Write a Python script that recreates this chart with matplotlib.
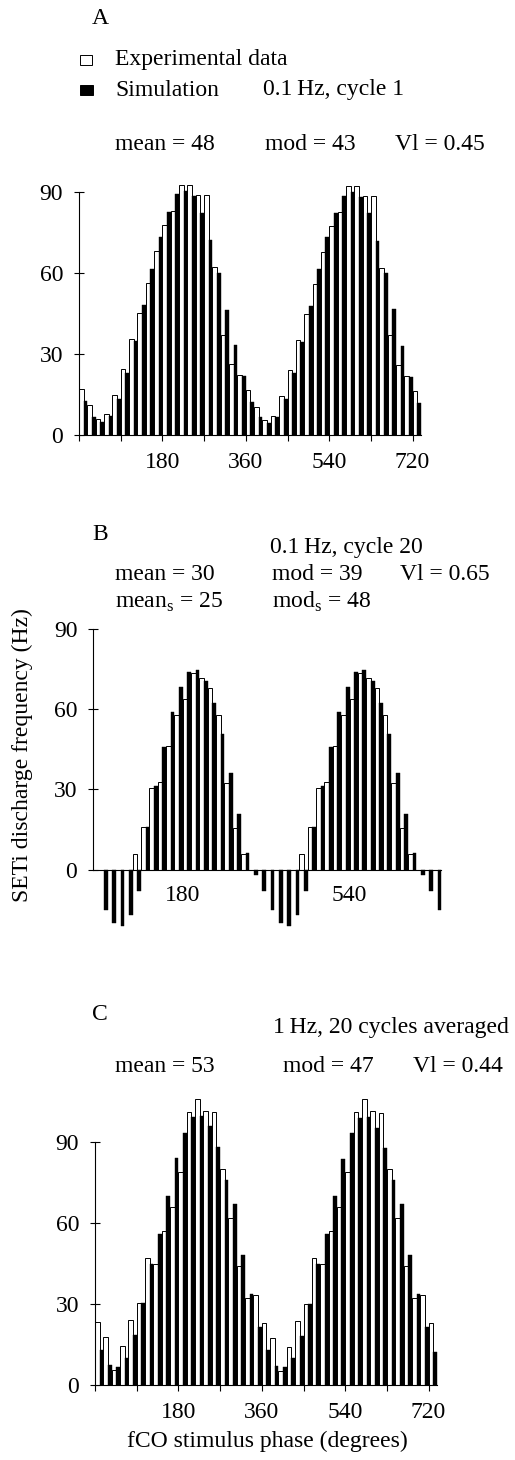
import numpy as np
import matplotlib.pyplot as plt
from matplotlib.patches import Rectangle

plt.rcParams['font.family'] = ['Liberation Serif', 'DejaVu Serif']
plt.rcParams['mathtext.fontset'] = 'custom'
plt.rcParams['mathtext.rm'] = 'Liberation Serif'

# left edge of each 18 degree phase bin (two stimulus cycles + one bin)
phase_deg = np.arange(0, 738, 18)
tick_deg = [0, 90, 180, 270, 360, 450, 540, 630, 720]
tick_lab = ['', '', '180', '', '360', '', '540', '', '720']

# A: 0.1 Hz, cycle 1
exp_a = [16.9, 11.1, 5.8, 7.7, 14.8, 24.3, 35.4, 45.3, 56.4, 68.1,
         77.8, 83.1, 92.6, 92.6, 88.9, 88.9, 62.1, 37.0, 26.3, 22.2,
         16.7, 10.5, 5.6, 7.2, 14.4, 24.1, 35.2, 44.7, 55.9, 67.7,
         77.4, 82.7, 92.3, 92.3, 88.6, 88.6, 61.7, 37.0, 25.9, 22.0,
         16.3]
sim_a = [12.7, 6.8, 4.7, 7.0, 13.3, 23.0, 34.9, 48.1, 61.5, 73.5,
         82.5, 89.1, 90.5, 88.6, 82.3, 72.2, 60.1, 46.3, 33.3, 21.8,
         12.3, 6.8, 4.6, 6.8, 13.2, 23.1, 34.6, 47.8, 61.4, 73.2,
         82.1, 88.6, 90.1, 88.3, 82.1, 71.9, 59.9, 46.5, 33.1, 21.6,
         11.7]

# B: 0.1 Hz, cycle 20
exp_b = [0, 0, 0, 0, 5.7, 15.8, 30.6, 32.7, 46.3, 57.9,
         63.7, 73.5, 71.6, 67.9, 57.9, 32.5, 15.7, 5.7, 0, 0,
         0, 0, 0, 0, 5.7, 15.8, 30.6, 32.7, 46.3, 57.9,
         63.7, 73.5, 71.6, 67.9, 57.9, 32.5, 15.7, 5.7, 0, 0,
         0]
sim_b = [-15, -20, -21, -17, -8, 15.8, 31.3, 46.0, 59.1, 68.5,
         73.8, 74.7, 70.7, 62.2, 50.6, 36.0, 20.7, 6.1, -2, -8,
         -15, -20, -21, -17, -8, 15.8, 31.3, 46.0, 59.1, 68.5,
         73.8, 74.7, 70.7, 62.2, 50.6, 36.0, 20.7, 6.1, -2, -8,
         -15]

# C: 1 Hz, 20 cycles averaged
exp_c = [23.2, 17.9, 5.6, 14.6, 24.1, 30.2, 47.0, 45.0, 57.0, 66.0,
         79.0, 101.2, 105.9, 101.6, 101.0, 80.0, 62.0, 44.0, 32.1, 33.3,
         22.8, 17.5, 5.3, 14.2, 23.8, 29.9, 47.0, 45.0, 57.0, 66.0,
         79.0, 101.2, 105.8, 101.4, 100.9, 80.0, 62.0, 44.0, 32.1, 33.3,
         22.8]
sim_c = [13.0, 7.4, 6.8, 10.1, 18.5, 30.2, 45.0, 56.0, 70.0, 84.1,
         93.4, 99.1, 99.6, 95.9, 88.3, 76.0, 67.0, 48.0, 33.7, 21.6,
         13.0, 7.0, 6.5, 9.9, 18.3, 30.1, 45.0, 56.0, 70.0, 83.8,
         93.4, 98.8, 99.4, 95.3, 87.9, 76.0, 67.0, 48.0, 33.7, 21.6,
         12.3]

W, H = 515.0, 1460.0
FS = 17
fig = plt.figure(figsize=(W / 100, H / 100), dpi=100)


def make_axes(x0, y0, px_val, xlim, ylim, px_deg=41.7 / 90):
    # x0, y0: pixel position of phase 0 / rate 0
    left = x0 + xlim[0] * px_deg
    right = x0 + xlim[1] * px_deg
    top = y0 - ylim[1] * px_val
    bottom = y0 - ylim[0] * px_val
    ax = fig.add_axes([left / W, 1 - bottom / H, (right - left) / W, (bottom - top) / H])
    ax.set_xlim(xlim)
    ax.set_ylim(ylim)
    for s in ['top', 'right']:
        ax.spines[s].set_visible(False)
    ax.spines['bottom'].set_position(('data', 0))
    ax.spines['left'].set_bounds(0, 90)
    ax.spines['bottom'].set_bounds(xlim[0], 738)
    for s in ['left', 'bottom']:
        ax.spines[s].set_linewidth(0.8)
    ax.set_yticks([0, 30, 60, 90])
    ax.tick_params(axis='y', direction='inout', length=7, width=0.8,
                   labelsize=FS, pad=8)
    ax.patch.set_alpha(0)
    return ax


def draw_bars(ax, exp, sim):
    ax.bar(phase_deg, exp, width=10, align='edge', color='white',
           edgecolor='black', linewidth=0.7, zorder=2)
    ax.bar(phase_deg + 10, sim, width=8, align='edge', color='black',
           edgecolor='black', linewidth=0.3, zorder=3)


def ftext(x, y, s, **kw):
    fig.text(x / W, 1 - y / H, s, fontsize=FS, va='center', ha='left', **kw)


# panel A
ax_a = make_axes(79, 435, 2.7, (0, 742), (-4, 96))
draw_bars(ax_a, exp_a, sim_a)
ax_a.set_xticks(tick_deg)
ax_a.set_xticklabels(tick_lab)
ax_a.tick_params(axis='x', direction='out', length=4, width=0.8,
                 labelsize=FS, pad=8)

# panel B
ax_b = make_axes(99.3, 869.5, 2.67, (-13, 742), (-25, 93))
draw_bars(ax_b, exp_b, sim_b)
ax_b.set_xticks([180, 540])
ax_b.set_xticklabels(['180', '540'])
ax_b.tick_params(axis='x', length=0, labelsize=FS, pad=11)

# panel C
ax_c = make_axes(95, 1385, 2.7, (0, 742), (-4, 108))
draw_bars(ax_c, exp_c, sim_c)
ax_c.set_xticks(tick_deg)
ax_c.set_xticklabels(tick_lab)
ax_c.tick_params(axis='x', direction='out', length=4, width=0.8,
                 labelsize=FS, pad=8)
ax_c.set_xlabel('fCO stimulus phase (degrees)', fontsize=FS, labelpad=6)

# legend
fig.add_artist(Rectangle((80 / W, 1 - 65 / H), 12 / W, 10 / H,
                         transform=fig.transFigure, facecolor='white',
                         edgecolor='black', linewidth=0.7))
fig.add_artist(Rectangle((80 / W, 1 - 95 / H), 13 / W, 10 / H,
                         transform=fig.transFigure, facecolor='black',
                         edgecolor='black', linewidth=0.7))

ftext(92, 18, 'A')
ftext(115, 60, 'Experimental data')
ftext(115, 90, 'Simulation')
ftext(263, 90, '0.1\u2009Hz, cycle 1')
ftext(115, 144, 'mean = 48')
ftext(265, 144, 'mod = 43')
ftext(395, 144, 'Vl = 0.45')

ftext(92, 535, 'B')
ftext(270, 548, '0.1\u2009Hz, cycle 20')
ftext(115, 575, 'mean = 30')
ftext(272, 575, 'mod = 39')
ftext(400, 575, 'Vl = 0.65')
ftext(115, 602, 'mean$_{\\rm s}$ = 25')
ftext(272, 602, 'mod$_{\\rm s}$ = 48')

ftext(92, 1015, 'C')
ftext(273, 1028, '1\u2009Hz, 20 cycles averaged')
ftext(115, 1067, 'mean = 53')
ftext(283, 1067, 'mod = 47')
ftext(413, 1067, 'Vl = 0.44')

fig.text(22 / W, 1 - 755 / H, 'SETi discharge frequency (Hz)', fontsize=FS,
         rotation=90, va='center', ha='center')

fig.savefig('out.png', dpi=100)
